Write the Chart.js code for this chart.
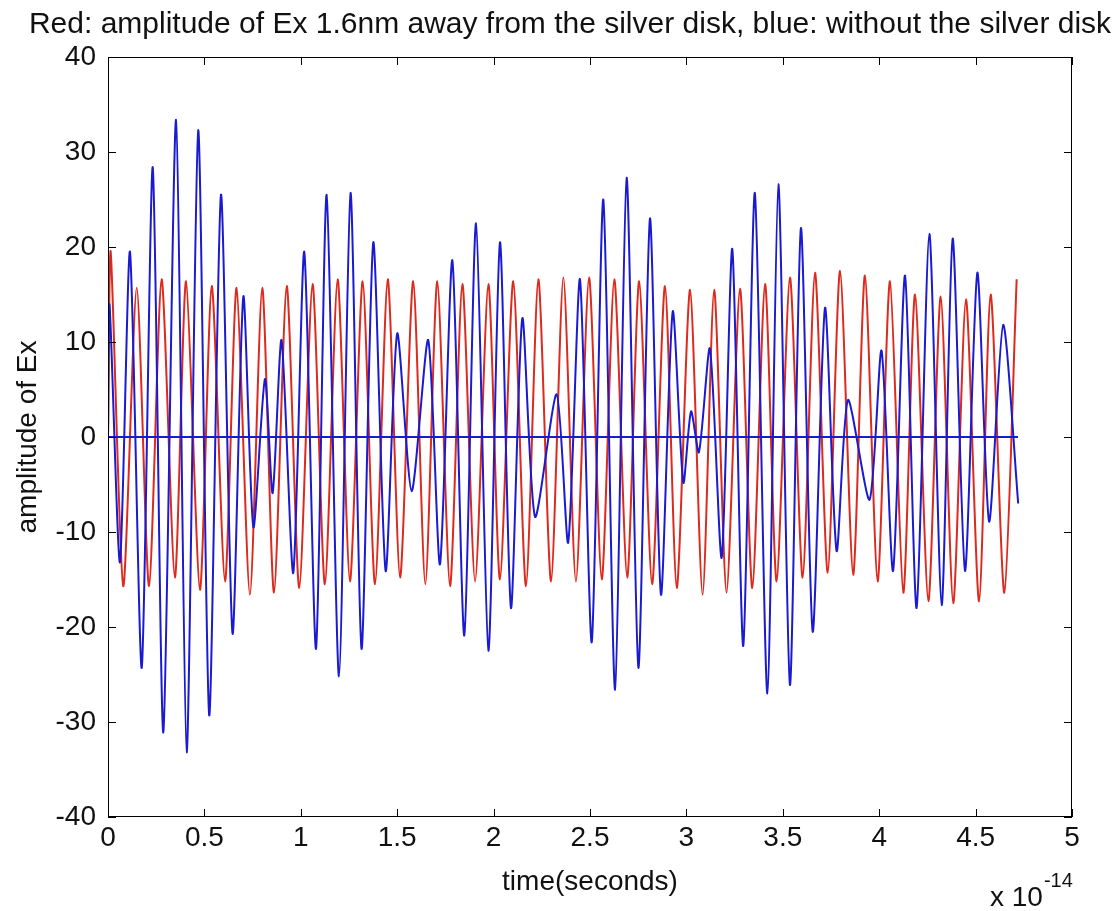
<!DOCTYPE html>
<html>
<head>
<meta charset="utf-8">
<title>Amplitude of Ex</title>
<script src="https://cdn.jsdelivr.net/npm/chart.js@4.4.1/dist/chart.umd.min.js"></script>
<style>
  html, body { margin: 0; padding: 0; background: #fff; }
  #wrap { width: 1120px; height: 911px; position: relative; }
</style>
</head>
<body>
<div id="wrap"><canvas id="exChart"></canvas></div>
<script>
// time values are in units of 1e-14 s (turning points of each trace)
const redTime = [0, 0.014, 0.079, 0.149, 0.213, 0.278, 0.347, 0.405, 0.477, 0.538, 0.607, 0.667, 0.736, 0.8,
  0.861, 0.927, 0.992, 1.061, 1.125, 1.191, 1.255, 1.321, 1.385, 1.451, 1.515, 1.583, 1.646,
  1.708, 1.774, 1.838, 1.904, 1.973, 2.033, 2.102, 2.168, 2.232, 2.298, 2.362, 2.427, 2.495,
  2.561, 2.626, 2.693, 2.755, 2.822, 2.889, 2.95, 3.019, 3.084, 3.144, 3.208, 3.278,
  3.342, 3.408, 3.468, 3.537, 3.603, 3.667, 3.733, 3.797, 3.865, 3.926, 3.992, 4.056, 4.125,
  4.186, 4.255, 4.319, 4.384, 4.45, 4.518, 4.578, 4.649, 4.713];
const redEx = [0, 19.5, -15.7, 15.7, -15.7, 16.6, -14.8, 16.4, -16.1, 15.9, -15.2, 15.7, -16.6, 15.7,
  -16.4, 15.9, -15.9, 16.1, -15.5, 16.6, -15.2, 16.4, -15.5, 16.6, -14.8, 16.4, -15.5,
  16.4, -15.7, 16.1, -15.2, 16.1, -15.0, 16.4, -15.7, 16.6, -15.2, 16.8, -15.2, 16.8,
  -15.0, 16.6, -14.8, 16.4, -15.5, 15.9, -15.9, 15.5, -16.6, 15.5, -16.4, 15.6,
  -15.9, 16.1, -15.2, 16.8, -14.8, 17.3, -14.3, 17.5, -14.5, 17.0, -15.2, 16.4, -16.4,
  15.0, -17.3, 14.8, -17.5, 14.5, -17.3, 15.0, -16.4, 16.6];

const blueTime = [0, 0.008, 0.062, 0.114, 0.175, 0.232, 0.287, 0.353, 0.408, 0.468, 0.525, 0.586, 0.646, 0.702,
  0.754, 0.814, 0.854, 0.9, 0.961, 1.018, 1.079, 1.134, 1.198, 1.258, 1.315, 1.376, 1.44, 1.5,
  1.575, 1.661, 1.722, 1.786, 1.848, 1.909, 1.973, 2.033, 2.09, 2.149, 2.215, 2.327, 2.387,
  2.448, 2.509, 2.569, 2.63, 2.69, 2.751, 2.811, 2.868, 2.929, 2.984, 3.024, 3.065, 3.122,
  3.183, 3.238, 3.295, 3.355, 3.42, 3.477, 3.537, 3.594, 3.655, 3.719, 3.779, 3.838, 3.95,
  4.012, 4.072, 4.134, 4.194, 4.26, 4.324, 4.381, 4.445, 4.509, 4.57, 4.643, 4.721];
const blueEx = [0, 13.9, -13.2, 19.5, -24.3, 28.4, -31.1, 33.4, -33.2, 32.3, -29.3, 25.5, -20.7, 14.8,
  -9.5, 6.1, -5.9, 10.2, -14.3, 19.5, -22.3, 25.5, -25.2, 25.7, -22.3, 20.5, -14.1, 10.9,
  -5.7, 10.2, -13.4, 18.6, -20.9, 22.5, -22.5, 20.5, -18.0, 12.5, -8.4, 4.5, -11.1,
  16.6, -21.6, 25.0, -26.6, 27.3, -24.3, 23.0, -16.6, 13.2, -4.8, 2.7, -1.6, 9.3,
  -12.7, 19.8, -22.0, 25.7, -27.0, 26.6, -26.1, 22.0, -20.5, 13.6, -12.0, 3.9, -6.6,
  9.1, -14.1, 17.0, -18.0, 21.4, -17.7, 20.9, -14.1, 17.3, -8.9, 11.8, -7.0];

// zero reference line
const baseTime = [0, 4.72];
const baseEx = [0, 0];

const xTicks = [0, 0.5, 1, 1.5, 2, 2.5, 3, 3.5, 4, 4.5, 5];
const yTicks = [-40, -30, -20, -10, 0, 10, 20, 30, 40];

const TITLE = "Red: amplitude of Ex 1.6nm away from the silver disk, blue: without the silver disk";
const FONT = '"Liberation Sans", Arial, Helvetica, sans-serif';
const INK = "#111";
const TICK_LEN = 8;

function toPoints(xs, ys) {
  return xs.map((x, i) => ({ x, y: ys[i] }));
}

function trace(label, xs, ys, color) {
  return {
    label,
    data: toPoints(xs, ys),
    borderColor: color,
    borderWidth: 2,
    pointRadius: 0,
    fill: false,
    tension: 0.25
  };
}

// axes box with inward ticks on all four sides, title and the x10^-14 multiplier
const framePlugin = {
  id: "frame",
  afterDraw(chart) {
    const { ctx, chartArea: a, scales: { x, y } } = chart;
    ctx.save();
    ctx.strokeStyle = "#000";
    ctx.lineWidth = 1;
    ctx.strokeRect(a.left + 0.5, a.top + 0.5, a.width - 1, a.height - 1);
    ctx.beginPath();
    x.ticks.forEach(t => {
      const px = Math.round(x.getPixelForValue(t.value)) + 0.5;
      ctx.moveTo(px, a.bottom); ctx.lineTo(px, a.bottom - TICK_LEN);
      ctx.moveTo(px, a.top); ctx.lineTo(px, a.top + TICK_LEN);
    });
    y.ticks.forEach(t => {
      const py = Math.round(y.getPixelForValue(t.value)) + 0.5;
      ctx.moveTo(a.left, py); ctx.lineTo(a.left + TICK_LEN, py);
      ctx.moveTo(a.right, py); ctx.lineTo(a.right - TICK_LEN, py);
    });
    ctx.stroke();

    ctx.fillStyle = INK;
    ctx.textAlign = "center";
    ctx.textBaseline = "alphabetic";
    ctx.font = `30px ${FONT}`;
    ctx.fillText(TITLE, 570, 33);

    ctx.textAlign = "left";
    ctx.font = `28px ${FONT}`;
    const x0 = a.right - 82;
    const y0 = 906;
    ctx.fillText("x 10", x0, y0);
    const w = ctx.measureText("x 10").width;
    ctx.font = `20px ${FONT}`;
    ctx.fillText("-14", x0 + w + 1, y0 - 19);
    ctx.restore();
  }
};

Chart.defaults.font.family = FONT;
Chart.defaults.color = INK;

new Chart(document.getElementById("exChart"), {
  type: "line",
  data: {
    datasets: [
      trace("zero", baseTime, baseEx, "#1a1ad0"),
      trace("without the silver disk", blueTime, blueEx, "#1a1ad0"),
      trace("1.6nm away from the silver disk", redTime, redEx, "#dd2a1e")
    ]
  },
  options: {
    responsive: true,
    maintainAspectRatio: false,
    animation: false,
    devicePixelRatio: 1,
    layout: { padding: { top: 57, right: 48, bottom: 0, left: 0 } },
    plugins: {
      legend: { display: false },
      tooltip: { enabled: false },
      title: { display: false }
    },
    scales: {
      x: {
        type: "linear",
        min: 0,
        max: 5,
        afterBuildTicks: s => { s.ticks = xTicks.map(v => ({ value: v })); },
        afterFit: s => { s.height = 94; },
        grid: { display: false, drawTicks: false },
        border: { display: false },
        ticks: { padding: 4, color: INK, font: { size: 28 }, maxRotation: 0, callback: v => String(v) },
        title: { display: true, text: "time(seconds)", color: INK, font: { size: 28 }, padding: { top: 0, bottom: 12 } }
      },
      y: {
        type: "linear",
        min: -40,
        max: 40,
        afterBuildTicks: s => { s.ticks = yTicks.map(v => ({ value: v })); },
        afterFit: s => { s.width = 108; },
        grid: { display: false, drawTicks: false },
        border: { display: false },
        ticks: { padding: 12, color: INK, font: { size: 28 }, callback: v => String(v) },
        title: { display: true, text: "amplitude of Ex", color: INK, font: { size: 28 }, padding: { top: 11, bottom: 0 } }
      }
    }
  },
  plugins: [framePlugin]
});
</script>
</body>
</html>
